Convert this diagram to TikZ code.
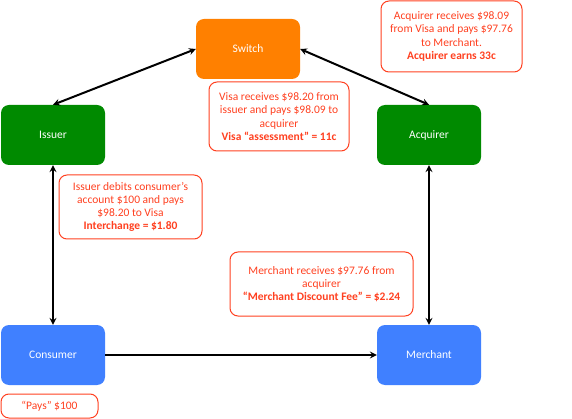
\documentclass[tikz,border=0pt]{standalone}
\usepackage{fontspec}
\setmainfont{Carlito}
\definecolor{switchorange}{HTML}{FF8000}
\definecolor{bankgreen}{HTML}{008A00}
\definecolor{userblue}{HTML}{4080FF}
\definecolor{notered}{HTML}{FF4020}
\tikzset{
  party/.style={rounded corners=8pt, minimum width=104pt, minimum height=60pt,
    text=white, font=\fontsize{11.5}{13.5}\selectfont},
  note/.style={draw=notered, line width=1pt, rounded corners=8pt, text=notered,
    align=center, inner sep=0pt, font=\fontsize{11.5}{13.2}\selectfont},
  flow/.style={line width=2pt}
}
\begin{document}
\begin{tikzpicture}[x=1pt, y=-1pt, >=stealth]
    \useasboundingbox (0,0) rectangle (572,419);
    \node[party, fill=switchorange] (switch) at (248,49) {Switch};
    \node[party, fill=bankgreen] (issuer) at (53,135) {Issuer};
    \node[party, fill=bankgreen] (acquirer) at (429,135) {Acquirer};
    \node[party, fill=userblue] (consumer) at (53,355) {Consumer};
    \node[party, fill=userblue] (merchant) at (429,355) {Merchant};
    \draw[flow, <->] (switch.west) -- (issuer.north);
    \draw[flow, <->] (switch.east) -- (acquirer.north);
    \draw[flow, <->] (issuer.south) -- (consumer.north);
    \draw[flow, <->] (acquirer.south) -- (merchant.north);
    \draw[flow, ->] (consumer.east) -- (merchant.west);
    \node[note, minimum width=141pt, minimum height=71pt] (acqnote) at (451.5,36.5)
      {Acquirer receives \$98.09\\from Visa and pays \$97.76\\to Merchant.\\\textbf{Acquirer earns 33c}};
    \node[note, minimum width=140pt, minimum height=69pt] (visanote) at (279,116.5)
      {Visa receives \$98.20 from\\issuer and pays \$98.09 to\\acquirer\\\textbf{Visa “assessment” = 11c}};
    \node[note, minimum width=143pt, minimum height=64pt] (issnote) at (130.5,207)
      {Issuer debits consumer’s\\account \$100 and pays\\\$98.20 to Visa\\\textbf{Interchange = \$1.80}};
    \node[note, minimum width=183pt, minimum height=64pt] (mernote) at (321.5,284)
      {Merchant receives \$97.76 from\\acquirer\\\textbf{“Merchant Discount Fee” = \$2.24}};
    \node[note, minimum width=97pt, minimum height=24pt] (paysnote) at (49.5,406)
      {“Pays” \$100};
\end{tikzpicture}
\end{document}
